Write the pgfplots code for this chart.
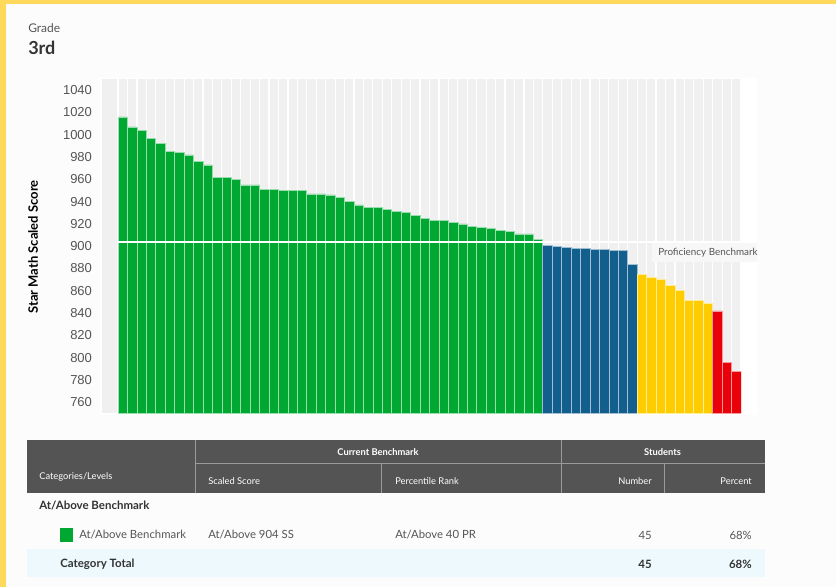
\documentclass[border=0pt]{standalone}
\usepackage{fontspec}
\setmainfont{Lato}
\newfontfamily\arialf{Liberation Sans}
\usepackage{pgfplots}
\usepackage{pgfplotstable}
\pgfplotsset{compat=1.18}
\definecolor{cgreen}{HTML}{00A832}
\definecolor{cblue}{HTML}{125F8E}
\definecolor{cyellow}{HTML}{FFCC00}
\definecolor{cred}{HTML}{E8000B}
\definecolor{plotbg}{HTML}{F0F0F0}
\definecolor{pagebg}{HTML}{FCFCFC}
\definecolor{border}{HTML}{FFD95C}
\definecolor{ticktext}{HTML}{555555}
\definecolor{darktext}{HTML}{333333}
\definecolor{graytext}{HTML}{555555}
\definecolor{header}{HTML}{545454}
\definecolor{hline}{HTML}{9A9A9A}
\definecolor{rowblue}{HTML}{EEF9FD}
\definecolor{labelbg}{HTML}{F7F7F7}

\pgfplotstableread{
x y
0 1016
1 1007
2 1004
3 997
4 992
5 985
6 984
7 982
8 976
9 973
10 962
11 962
12 960
13 955
14 955
15 951
16 951
17 950
18 950
19 950
20 947
21 947
22 946
23 944
24 940
25 937
26 935
27 935
28 933
29 931
30 930
31 928
32 925
33 923
34 923
35 921
36 920
37 918
38 917
39 916
40 914
41 913
42 911
43 911
44 906
}\greendata
\pgfplotstableread{
x y
45 901
46 900
47 899
48 898
49 898
50 897
51 897
52 896
53 896
54 884
}\bluedata
\pgfplotstableread{
x y
55 875
56 872
57 870
58 865
59 860
60 851
61 851
62 849
}\yellowdata
\pgfplotstableread{
x y
63 842
64 796
65 788
}\reddata

\begin{document}
\begin{tikzpicture}
\begin{scope}[x=0.75pt,y=-0.75pt]
\fill[pagebg] (0,0) rectangle (836,587);
\fill[border] (0,0) rectangle (836,4);
\fill[border] (0,0) rectangle (6,587);
\fill[white] (100,78) rectangle (757,415);
\node[anchor=base west, inner sep=0pt, text=graytext, font=\fontsize{9}{10}\selectfont] at (28,32) {Grade};
\node[anchor=base west, inner sep=0pt, text=darktext, font=\bfseries\fontsize{13.5}{15}\selectfont] at (28,54) {3rd};
\node[rotate=90, inner sep=0pt, font=\bfseries\fontsize{9.75}{11}\selectfont] at (33,247) {Star Math Scaled Score};
\end{scope}

\begin{axis}[
  at={(76.5pt,-310pt)}, anchor=south west,
  scale only axis, width=479.25pt, height=250.7pt,
  xmin=-2.2, xmax=65.5, ymin=750, ymax=1050,
  axis background/.style={fill=plotbg},
  axis line style={draw=none},
  major tick length=0pt,
  xtick={-0.5,0.5,...,65.5}, xticklabels={},
  xmajorgrids, x grid style={white, line width=0.9pt},
  ytick={760,780,...,1040},
  yticklabel style={font=\arialf\fontsize{9.75}{11}\selectfont, text=ticktext, xshift=-4pt},
  /pgf/number format/assume math mode=true,
  /pgf/number format/1000 sep={},
]
\addplot[ybar, bar width=1, bar shift=0pt, fill=cgreen, draw=white!60!cgreen, line width=0.5pt] table[x=x,y=y] {\greendata};
\addplot[ybar, bar width=1, bar shift=0pt, fill=cblue, draw=white!60!cblue, line width=0.5pt] table[x=x,y=y] {\bluedata};
\addplot[ybar, bar width=1, bar shift=0pt, fill=cyellow, draw=white!60!cyellow, line width=0.5pt] table[x=x,y=y] {\yellowdata};
\addplot[ybar, bar width=1, bar shift=0pt, fill=cred, draw=white!60!cred, line width=0.5pt] table[x=x,y=y] {\reddata};
\addplot[white, line width=1.4pt] coordinates {(-0.5,904) (65.5,904)};
\end{axis}

\begin{scope}[x=0.75pt,y=-0.75pt]
\fill[labelbg] (652,243) rectangle (757,262);
\node[anchor=west, inner sep=0pt, text=graytext, font=\fontsize{7.4}{9}\selectfont] at (658,252.5) {Proficiency Benchmark};
% table header
\fill[header] (27,440) rectangle (765,493);
\draw[hline, line width=0.75pt] (195,463) -- (765,463);
\draw[hline, line width=0.75pt] (195,440) -- (195,493);
\draw[hline, line width=0.75pt] (561,440) -- (561,493);
\draw[hline, line width=0.75pt] (381.5,463) -- (381.5,493);
\draw[hline, line width=0.75pt] (664.5,463) -- (664.5,493);
\begin{scope}[every node/.style={inner sep=0pt, text=white, font=\fontsize{7}{8}\selectfont}]
\node[font=\bfseries\fontsize{7}{8}\selectfont] at (378,452) {Current Benchmark};
\node[font=\bfseries\fontsize{7}{8}\selectfont] at (662.5,452) {Students};
\node[anchor=west] at (39,477) {Categories/Levels};
\node[anchor=west] at (208,481) {Scaled Score};
\node[anchor=west] at (395,481) {Percentile Rank};
\node[anchor=east] at (652,481) {Number};
\node[anchor=east] at (752,481) {Percent};
\end{scope}
% rows
\node[anchor=west, inner sep=0pt, text=darktext, font=\bfseries\fontsize{8.6}{10}\selectfont] at (39,506) {At/Above Benchmark};
\fill[cgreen] (60,528) rectangle (73,542);
\begin{scope}[every node/.style={inner sep=0pt, text=graytext, font=\fontsize{8.5}{10}\selectfont}]
\node[anchor=west] at (79,535) {At/Above Benchmark};
\node[anchor=west] at (208,535) {At/Above 904 SS};
\node[anchor=west] at (395,535) {At/Above 40 PR};
\node[anchor=east] at (652,535) {45};
\node[anchor=east] at (752,535) {68\%};
\end{scope}
\fill[rowblue] (27,549) rectangle (765,577);
\begin{scope}[every node/.style={inner sep=0pt, text=darktext, font=\bfseries\fontsize{8.6}{10}\selectfont}]
\node[anchor=west] at (60,564) {Category Total};
\node[anchor=east] at (652,564) {45};
\node[anchor=east] at (752,564) {68\%};
\end{scope}
\end{scope}
\pgfresetboundingbox
\path[x=0.75pt,y=-0.75pt] (0,0) rectangle (836,587);
\end{tikzpicture}
\end{document}
